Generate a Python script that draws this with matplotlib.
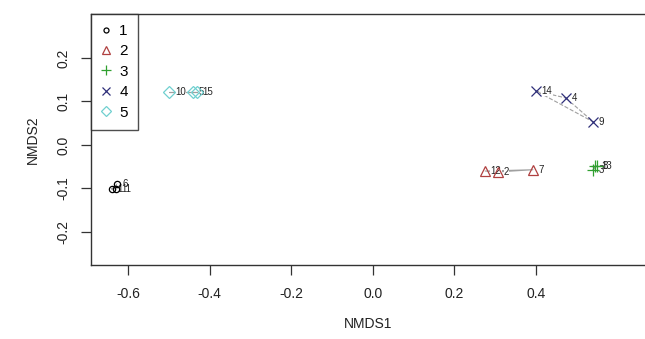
import matplotlib
matplotlib.use("Agg")
import matplotlib.pyplot as plt
from matplotlib.patches import Rectangle
import numpy as np

plt.rcParams['font.family'] = ['Liberation Sans', 'DejaVu Sans']

# site scores
sites = ['1', '2', '3', '4', '5', '6', '7', '8', '9', '10', '11', '12', '13', '14', '15']
nmds1 = [-0.640, 0.308, 0.541, 0.474, -0.441, -0.627, 0.393, 0.550, 0.541, -0.499,
         -0.630, 0.276, 0.546, 0.401, -0.431]
nmds2 = [-0.101, -0.062, -0.057, 0.108, 0.121, -0.090, -0.057, -0.048, 0.053, 0.121,
         -0.101, -0.060, -0.048, 0.124, 0.121]
group = [1, 2, 3, 4, 5, 1, 2, 3, 4, 5, 1, 2, 3, 4, 5]

group_names = ['1', '2', '3', '4', '5']
markers = ['o', '^', '+', 'x', 'D']
colors = ['#000000', '#b04040', '#30a030', '#2f2f7a', '#70d0d0']
sizes = [4.5, 7, 9, 7, 6]
hull_styles = ['-', '-', '-', '--', '-']

x = np.array(nmds1)
y = np.array(nmds2)
g = np.array(group)

fig = plt.figure(figsize=(6.45, 3.39), dpi=100)
ax = fig.add_axes([91 / 645, 1 - 265 / 339, 554 / 645, 251 / 339])

# hull lines per group (under labels and points)
for k in range(5):
    idx = np.where(g == k + 1)[0]
    px = list(x[idx]) + [x[idx][0]]
    py = list(y[idx]) + [y[idx][0]]
    ax.plot(px, py, linestyle=hull_styles[k], color='#a0a0a0', lw=0.8, zorder=1)

labels = []
for i, s in enumerate(sites):
    t = ax.annotate(s, (x[i], y[i]), xytext=(4, 0), textcoords='offset points',
                    ha='left', va='center', fontsize=7, color='#222222', zorder=2)
    labels.append(t)

for k in range(5):
    idx = np.where(g == k + 1)[0]
    ax.plot(x[idx], y[idx], linestyle='none', marker=markers[k], ms=sizes[k],
            mfc='none', mec=colors[k], mew=0.9, zorder=3)

ax.set_xlim(-0.691, 0.668)
ax.set_ylim(-0.276, 0.301)
ax.set_xticks([-0.6, -0.4, -0.2, 0.0, 0.2, 0.4])
ax.set_xticklabels(['-0.6', '-0.4', '-0.2', '0.0', '0.2', '0.4'])
ax.set_yticks([-0.2, -0.1, 0.0, 0.1, 0.2])
ax.set_yticklabels(['-0.2', '-0.1', '0.0', '0.1', '0.2'], rotation=90, va='center')
ax.tick_params(axis='x', pad=9)
ax.tick_params(axis='y', pad=8)
ax.tick_params(length=7, width=0.9, labelsize=10, color='#333333', labelcolor='#222222')
for sp in ['left', 'bottom', 'top']:
    ax.spines[sp].set_linewidth(1.0)
    ax.spines[sp].set_color('#333333')
ax.spines['right'].set_visible(False)

ax.set_xlabel('NMDS1', fontsize=10, color='#222222', labelpad=11)
ax.set_ylabel('NMDS2', fontsize=10, color='#222222', labelpad=12)

handles = []
for k in range(5):
    h, = ax.plot([], [], linestyle='none', marker=markers[k], ms=sizes[k] * 0.8,
                 mfc='none', mec=colors[k], mew=0.9)
    handles.append(h)
leg = ax.legend(handles, group_names, loc='upper left', bbox_to_anchor=(0, 1),
                borderaxespad=0, fontsize=11, frameon=True, fancybox=False,
                handlelength=0.6, handletextpad=0.6, labelspacing=0.42,
                borderpad=0.65)
leg.get_frame().set_edgecolor('#222222')
leg.get_frame().set_linewidth(1.0)

# white patches behind the site labels so the hull lines break around them
fig.canvas.draw()
inv = ax.transData.inverted()
for t in labels:
    bb = t.get_window_extent().expanded(1.05, 1.0)
    (x0, y0), (x1, y1) = inv.transform([[bb.x0, bb.y0], [bb.x1, bb.y1]])
    ax.add_patch(Rectangle((x0, y0), x1 - x0, y1 - y0, fc='white', ec='none', zorder=1.5))

fig.savefig('out.png', dpi=100)
